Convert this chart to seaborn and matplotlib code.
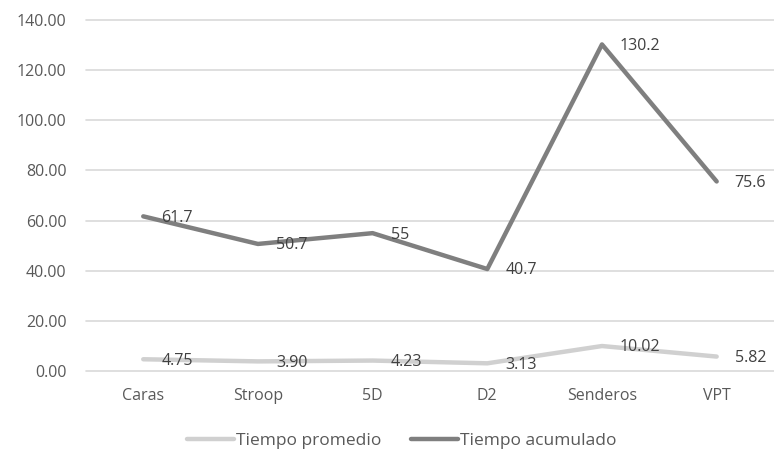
import matplotlib
matplotlib.use("Agg")
import matplotlib.pyplot as plt
import seaborn as sns
import pandas as pd

categories = ["Caras", "Stroop", "5D", "D2", "Senderos", "VPT"]
promedio = [4.75, 3.90, 4.23, 3.13, 10.02, 5.82]
acumulado = [61.7, 50.7, 55, 40.7, 130.2, 75.6]
promedio_labels = ["4.75", "3.90", "4.23", "3.13", "10.02", "5.82"]
acumulado_labels = ["61.7", "50.7", "55", "40.7", "130.2", "75.6"]
series_names = ["Tiempo promedio", "Tiempo acumulado"]
y_ticks = [0, 20, 40, 60, 80, 100, 120, 140]

sns.set_theme(style="white")
plt.rcParams['font.family'] = ['Open Sans', 'DejaVu Sans']

df = pd.DataFrame({
    "cat": categories * 2,
    "val": promedio + acumulado,
    "serie": [series_names[0]] * len(categories) + [series_names[1]] * len(categories),
})

text_col = "#595959"
fs = 11.5
fig = plt.figure(figsize=(7.74, 4.51), dpi=100)
ax = fig.add_axes([0.111, 0.177, 0.889, 0.779])
for y in y_ticks:
    ax.axhline(y, color="#d9d9d9", lw=1.2, zorder=0)

sns.lineplot(data=df, x="cat", y="val", hue="serie", sort=False,
             palette={series_names[0]: "#d0d0d0", series_names[1]: "#7f7f7f"},
             linewidth=3.2, ax=ax, legend=False, zorder=3)
for line in ax.get_lines():
    line.set_solid_capstyle("round")
    line.set_clip_on(False)

for i, (v, l) in enumerate(zip(promedio, promedio_labels)):
    ax.annotate(l, (i, v), xytext=(13, -1), textcoords="offset points",
                va="center", ha="left", fontsize=fs, color="#404040", zorder=5)
for i, (v, l) in enumerate(zip(acumulado, acumulado_labels)):
    ax.annotate(l, (i, v), xytext=(13, -1), textcoords="offset points",
                va="center", ha="left", fontsize=fs, color="#404040", zorder=5)

ax.set_xlim(-0.5, 5.5)
ax.set_ylim(0, 140)
ax.set_yticks(y_ticks)
ax.set_yticklabels([f"{t:.2f}" for t in y_ticks])
ax.set_xlabel("")
ax.set_ylabel("")
for s in ax.spines.values():
    s.set_visible(False)
ax.tick_params(axis="y", length=0, pad=14, labelsize=fs, labelcolor=text_col)
ax.tick_params(axis="x", length=0, pad=12, labelsize=fs, labelcolor=text_col)

from matplotlib.lines import Line2D
handles = [Line2D([0], [0], color="#d0d0d0", lw=3.2, solid_capstyle="round"),
           Line2D([0], [0], color="#7f7f7f", lw=3.2, solid_capstyle="round")]
leg = fig.legend(handles, series_names, loc="center", bbox_to_anchor=(0.519, 0.022),
                 ncol=2, frameon=False, fontsize=12.5, handlelength=2.7,
                 handletextpad=0.1, columnspacing=1.7, borderpad=0)
for t in leg.get_texts():
    t.set_color(text_col)

fig.savefig("out.png", dpi=100)
